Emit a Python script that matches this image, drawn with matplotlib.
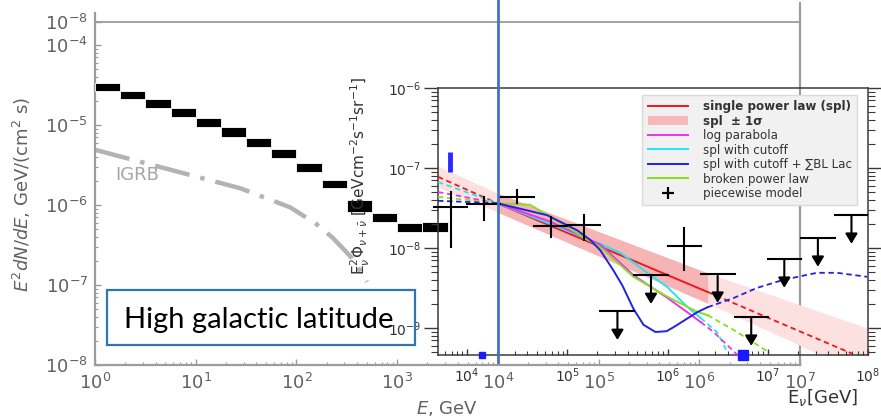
import numpy as np
import matplotlib
matplotlib.use("Agg")
import matplotlib.pyplot as plt
import matplotlib.transforms as mtransforms
from matplotlib.patches import Rectangle, Patch
from matplotlib.lines import Line2D
from matplotlib.ticker import FixedLocator, FixedFormatter, LogLocator, NullFormatter

# ---------------- data (log10 values) ----------------
# left panel: gamma-ray spectrum boxes
gam_bin_lo = [0.00, 0.25, 0.50, 0.75, 1.00, 1.25, 1.50, 1.75, 2.00, 2.25, 2.50, 2.75, 3.00, 3.25]
gam_bin_hi = [0.25, 0.50, 0.75, 1.00, 1.25, 1.50, 1.75, 2.00, 2.25, 2.50, 2.75, 3.00, 3.25, 3.50]
gam_flux_lo = [-4.575, -4.675, -4.788, -4.900, -5.025, -5.150, -5.275, -5.413, -5.588, -5.788,
               -6.088, -6.213, -6.338, -6.338]
gam_flux_hi = [-4.475, -4.575, -4.675, -4.788, -4.913, -5.025, -5.163, -5.300, -5.475, -5.688,
               -5.938, -6.100, -6.225, -6.213]
# IGRB dash-dot curve
igrb_logE = [0.00, 1.44, 1.94, 2.20, 2.36, 2.55, 2.70]
igrb_logF = [-5.31, -5.79, -6.03, -6.24, -6.41, -6.66, -6.96]

main_xtick_exp = [0, 1, 2, 3, 4, 5, 6, 7]
main_ytick_exp = [-8, -7, -6, -5, -4, -3.7125]
main_ytick_labels = ["$10^{-8}$", "$10^{-7}$", "$10^{-6}$", "$10^{-5}$", "$10^{-4}$", "$10^{-8}$"]

# inset: neutrino spectrum models
red_left_E, red_left_F = [3.71, 4.30], [-7.11, -7.44]
red_E, red_F = [4.30, 6.40], [-7.44, -8.55]
red_right_E, red_right_F = [6.40, 7.84], [-8.55, -9.32]

cyan_left_E, cyan_left_F = [3.71, 4.30], [-7.175, -7.44]
cyan_E = [4.30, 4.83, 5.33, 5.53, 5.83, 6.00, 6.20, 6.33]
cyan_F = [-7.44, -7.70, -7.95, -8.06, -8.34, -8.49, -8.74, -8.875]
cyan_right_E, cyan_right_F = [6.33, 6.50, 6.60], [-8.875, -9.06, -9.31]

mag_left_E, mag_left_F = [3.71, 4.30], [-7.30, -7.44]
mag_E = [4.30, 4.83, 5.33, 5.66, 6.00, 6.26, 6.33]
mag_F = [-7.44, -7.67, -7.96, -8.34, -8.625, -8.86, -8.925]
mag_right_E, mag_right_F = [6.33, 6.46, 6.70], [-8.925, -9.05, -9.34]

grn_left_E, grn_left_F = [3.71, 4.30], [-7.36, -7.44]
grn_E = [4.30, 4.63, 5.33, 5.66, 6.00, 6.30, 6.40]
grn_F = [-7.44, -7.46, -7.99, -8.36, -8.61, -8.80, -8.84]
grn_right_E, grn_right_F = [6.40, 6.66, 7.02], [-8.84, -9.025, -9.31]

blu_left_E, blu_left_F = [3.71, 4.30], [-7.41, -7.44]
blu_E = [4.30, 4.80, 5.10, 5.23, 5.33, 5.46, 5.55, 5.66, 5.76, 5.88, 5.99, 6.06, 6.30, 6.40]
blu_F = [-7.44, -7.59, -7.78, -7.90, -8.03, -8.28, -8.47, -8.76, -8.96, -9.05, -9.04, -8.99, -8.80, -8.74]
blu_right_E = [6.40, 6.66, 6.89, 7.15, 7.49, 7.69, 7.99]
blu_right_F = [-8.74, -8.625, -8.50, -8.40, -8.31, -8.31, -8.36]

band_E = [3.71, 4.30, 6.40, 7.99]
band_up = [-6.975, -7.3125, -8.3125, -9.00]
band_lo = [-7.24, -7.55, -8.69, -9.60]
band_dark_E = [4.30, 6.40]
band_dark_up = [-7.3125, -8.3125]
band_dark_lo = [-7.55, -8.69]

# piecewise model: bin edges, measured points and upper limits
pw_edges = [3.67, 4.00, 4.33, 4.67, 5.00, 5.33, 5.67, 6.00, 6.33, 6.67, 7.00, 7.33, 7.67, 8.00]
pw_pt_bin = [0, 1, 2, 3, 4, 7]
pw_pt_F = [-7.4875, -7.45, -7.3625, -7.725, -7.7125, -7.975]
pw_pt_lo = [-7.99, -7.65, -7.44, -7.86, -7.90, -8.275]
pw_pt_hi = [-7.30, -7.36, -7.275, -7.61, -7.59, -7.75]
pw_ul_bin = [5, 6, 8, 9, 10, 11, 12]
pw_ul_F = [-8.79, -8.34, -8.325, -8.8625, -8.1375, -7.875, -7.5875]

blue_bar_E, blue_bar_F = [3.83, 3.83], [-6.80, -7.05]
blue_sq_E = [4.15, 6.75]

ins_xtick_exp = [4, 5, 6, 7, 8]
ins_ytick_exp = [-9, -8, -7, -6]

legend_labels = ["single power law (spl)", "spl  \u00b1 1\u03c3", "log parabola", "spl with cutoff",
                 "spl with cutoff + \u2211BL Lac", "broken power law", "piecewise model"]

# ---------------- styling ----------------
C_RED, C_CYAN, C_MAG, C_BLUE, C_GRN = "#f01818", "#22e4f0", "#f030f0", "#2222e0", "#86e020"
GRAY_TXT = "#616161"
GRAY_SP = "#9c9c9c"

def p10(v):
    return 10.0 ** np.asarray(v, dtype=float)

fig = plt.figure(figsize=(8.81, 4.20), dpi=100)
fig.patch.set_facecolor("white")

# ---------------- main (left) axes ----------------
ax = fig.add_axes([95/881, 55/420, 705/881, 352/420])
ax.set_xscale("log"); ax.set_yscale("log")
ax.set_xlim(1, 1e7); ax.set_ylim(1e-8, 10**-3.6)
ax.set_facecolor("white")

blo, bhi = p10(gam_bin_lo), p10(gam_bin_hi)
flo, fhi = p10(gam_flux_lo), p10(gam_flux_hi)
ax.bar(blo, fhi - flo, bottom=flo, width=bhi - blo, align="edge",
       color="black", edgecolor="white", linewidth=0.6, zorder=3, clip_on=False)

ax.plot(p10(igrb_logE), p10(igrb_logF), color="#b3b3b3", lw=3.2,
        linestyle=(0, (8, 2.5, 1, 2.5)), zorder=2)
ax.text(10**0.2, 10**-5.625, "IGRB", color="#a6a6a6", fontsize=13, ha="left", va="center")

ax.axhline(10**-3.7125, color=GRAY_SP, lw=1.3, zorder=1)

for s in ["left", "bottom", "right"]:
    ax.spines[s].set_color(GRAY_SP)
    ax.spines[s].set_linewidth(1.6)
ax.spines["top"].set_visible(False)

ax.xaxis.set_major_locator(FixedLocator(p10(main_xtick_exp)))
ax.xaxis.set_major_formatter(FixedFormatter([f"$10^{{{e}}}$" for e in main_xtick_exp]))
ax.xaxis.set_minor_locator(LogLocator(base=10, subs=np.arange(2, 10), numticks=30))
ax.xaxis.set_minor_formatter(NullFormatter())
ax.yaxis.set_major_locator(FixedLocator(p10(main_ytick_exp)))
ax.yaxis.set_major_formatter(FixedFormatter(main_ytick_labels))
ax.yaxis.set_minor_locator(LogLocator(base=10, subs=np.arange(2, 10), numticks=30))
ax.yaxis.set_minor_formatter(NullFormatter())
ax.tick_params(which="both", direction="in", colors=GRAY_SP, labelcolor=GRAY_TXT,
               labelsize=13, top=False, right=False)
ax.tick_params(which="major", length=4, width=1)
ax.tick_params(which="minor", length=2.5, width=0.8)
ax.tick_params(axis="x", pad=6)
ax.tick_params(axis="y", pad=5)

ax.set_xlabel("$E$, GeV", fontsize=13, color=GRAY_TXT, va="center")
ax.xaxis.set_label_coords(0.5, (365-408)/352)
ax.set_ylabel("$E^2dN/dE$, GeV/(cm$^2$ s)", fontsize=13, color=GRAY_TXT, va="center")
ax.yaxis.set_label_coords((22-95)/705, (365-194)/352)

# ---------------- inset (neutrino) axes ----------------
ai = fig.add_axes([438/881, 65/420, 430/881, 267/420])
ai.set_xscale("log"); ai.set_yscale("log")
ai.set_xlim(10**3.71, 1e8); ai.set_ylim(10**-9.3375, 1e-6)
ai.set_facecolor("none")

ai.fill_between(p10(band_E), p10(band_lo), p10(band_up), color="#fde0e0", lw=0, zorder=1)
ai.fill_between(p10(band_dark_E), p10(band_dark_lo), p10(band_dark_up), color="#f6b4b4", lw=0, zorder=1.1)

curves = [
    (red_left_E, red_left_F, red_E, red_F, red_right_E, red_right_F, C_RED),
    (cyan_left_E, cyan_left_F, cyan_E, cyan_F, cyan_right_E, cyan_right_F, C_CYAN),
    (mag_left_E, mag_left_F, mag_E, mag_F, mag_right_E, mag_right_F, C_MAG),
    (grn_left_E, grn_left_F, grn_E, grn_F, grn_right_E, grn_right_F, C_GRN),
    (blu_left_E, blu_left_F, blu_E, blu_F, blu_right_E, blu_right_F, C_BLUE),
]
for le, lf, se, sf, re_, rf, c in curves:
    ai.plot(p10(le), p10(lf), color=c, lw=1.3, ls=(0, (3, 2)), zorder=3)
    ai.plot(p10(se), p10(sf), color=c, lw=1.4, zorder=3)
    ai.plot(p10(re_), p10(rf), color=c, lw=1.3, ls=(0, (3, 2)), zorder=3)

edges = np.asarray(pw_edges)
for b, f, lo, hi in zip(pw_pt_bin, pw_pt_F, pw_pt_lo, pw_pt_hi):
    xc = 10 ** ((edges[b] + edges[b + 1]) / 2)
    ai.plot([10**edges[b], 10**edges[b + 1]], [10**f, 10**f], color="black", lw=1.5, zorder=5, clip_on=False)
    ai.plot([xc, xc], [10**lo, 10**hi], color="black", lw=1.5, zorder=5)
for b, f in zip(pw_ul_bin, pw_ul_F):
    xc = 10 ** ((edges[b] + edges[b + 1]) / 2)
    ai.plot([10**edges[b], 10**edges[b + 1]], [10**f, 10**f], color="black", lw=1.5, zorder=5)
    ai.annotate("", xy=(xc, 10**(f - 0.36)), xytext=(xc, 10**f),
                arrowprops=dict(arrowstyle="-|>,head_width=0.3,head_length=0.5", color="black",
                                lw=1.5, shrinkA=0, shrinkB=0, mutation_scale=12), zorder=5)

ai.plot(p10(blue_bar_E), p10(blue_bar_F), color="#2a2aff", lw=3.5, zorder=4, solid_capstyle="butt")
ai.plot(p10(blue_sq_E[:1]), [10**-9.3375], marker="s", ms=4, color="#1a1aff", ls="none", clip_on=False, zorder=6)
ai.plot(p10(blue_sq_E[1:]), [10**-9.3375], marker="s", ms=7, color="#1a1aff", ls="none", clip_on=False, zorder=6)

for s in ["left", "bottom", "right", "top"]:
    ai.spines[s].set_color("#3a3a3a")
    ai.spines[s].set_linewidth(1.1)
ai.xaxis.set_major_locator(FixedLocator(p10(ins_xtick_exp)))
ai.xaxis.set_major_formatter(FixedFormatter([f"$10^{{{e}}}$" for e in ins_xtick_exp]))
ai.xaxis.set_minor_locator(LogLocator(base=10, subs=np.arange(2, 10), numticks=30))
ai.xaxis.set_minor_formatter(NullFormatter())
ai.yaxis.set_major_locator(FixedLocator(p10(ins_ytick_exp)))
ai.yaxis.set_major_formatter(FixedFormatter([f"$10^{{{e}}}$" for e in ins_ytick_exp]))
ai.yaxis.set_minor_locator(LogLocator(base=10, subs=np.arange(2, 10), numticks=30))
ai.yaxis.set_minor_formatter(NullFormatter())
ai.tick_params(axis="y", which="both", direction="out", left=True, right=True,
               colors="#3a3a3a", labelcolor="#333333", labelsize=10, pad=2)
ai.tick_params(axis="y", which="major", length=10, width=1)
ai.tick_params(axis="y", which="minor", length=5, width=0.8)
ai.tick_params(axis="x", which="both", direction="in", top=False, bottom=True,
               colors="#3a3a3a", labelcolor="#333333", labelsize=10, pad=8)
ai.tick_params(axis="x", which="major", length=4, width=1)
ai.tick_params(axis="x", which="minor", length=3, width=0.8)

ai.set_ylabel("E$^2_\\nu\\Phi_{\\nu+\\bar{\\nu}}$ [GeVcm$^{-2}$s$^{-1}$sr$^{-1}$]", fontsize=11,
              color="#333333", va="center")
ai.yaxis.set_label_coords((360-438)/430, (355-176)/267)
ai.set_xlabel("E$_\\nu$[GeV]", fontsize=13, color="#333333", va="center")
ai.xaxis.set_label_coords((822-438)/430, (355-397)/267)

handles = [
    Line2D([], [], color=C_RED, lw=1.4),
    Patch(facecolor="#f6b8b8", edgecolor="none"),
    Line2D([], [], color=C_MAG, lw=1.4),
    Line2D([], [], color=C_CYAN, lw=1.4),
    Line2D([], [], color=C_BLUE, lw=1.4),
    Line2D([], [], color=C_GRN, lw=1.4),
    Line2D([], [], color="black", marker="+", ls="none", ms=8, mew=1.6),
]
leg = ai.legend(handles, legend_labels, loc="upper right",
                bbox_to_anchor=((857-438)/430, (355-95)/267), borderaxespad=0,
                fontsize=8.6, labelspacing=0.12, handlelength=3.4, handletextpad=1.2,
                borderpad=0.45, fancybox=False, framealpha=1, facecolor="#f1f1f1",
                edgecolor="#dadada")
leg.set_zorder(10)
for i, t in enumerate(leg.get_texts()):
    t.set_color("#333333")
    if i < 2:
        t.set_fontweight("bold")

# main right spine drawn as line visible through the inset
ax.spines["right"].set_visible(False)
ax.plot([1e7, 1e7], [0, 1.028], transform=mtransforms.blended_transform_factory(ax.transData, ax.transAxes),
        color=GRAY_SP, lw=1.6, clip_on=False, zorder=0.5)

# blue vertical marker line across figure
bl = Line2D([1e4, 1e4], [(420-362)/420, 1.0], color="#4472C4", lw=2.0, zorder=20,
            transform=mtransforms.blended_transform_factory(ax.transData, fig.transFigure))
fig.add_artist(bl)

# text box
fig.add_artist(Rectangle((107/881, (420-345)/420), 308/881, 55/420, transform=fig.transFigure,
                         fill=False, edgecolor="#2E75B6", linewidth=1.6, zorder=21))
fig.text(124/881, (420-328)/420, "High galactic latitude", fontsize=21, family="Lato",
         color="black", ha="left", va="baseline", zorder=22)

fig.savefig("out.png", dpi=100, facecolor="white")
